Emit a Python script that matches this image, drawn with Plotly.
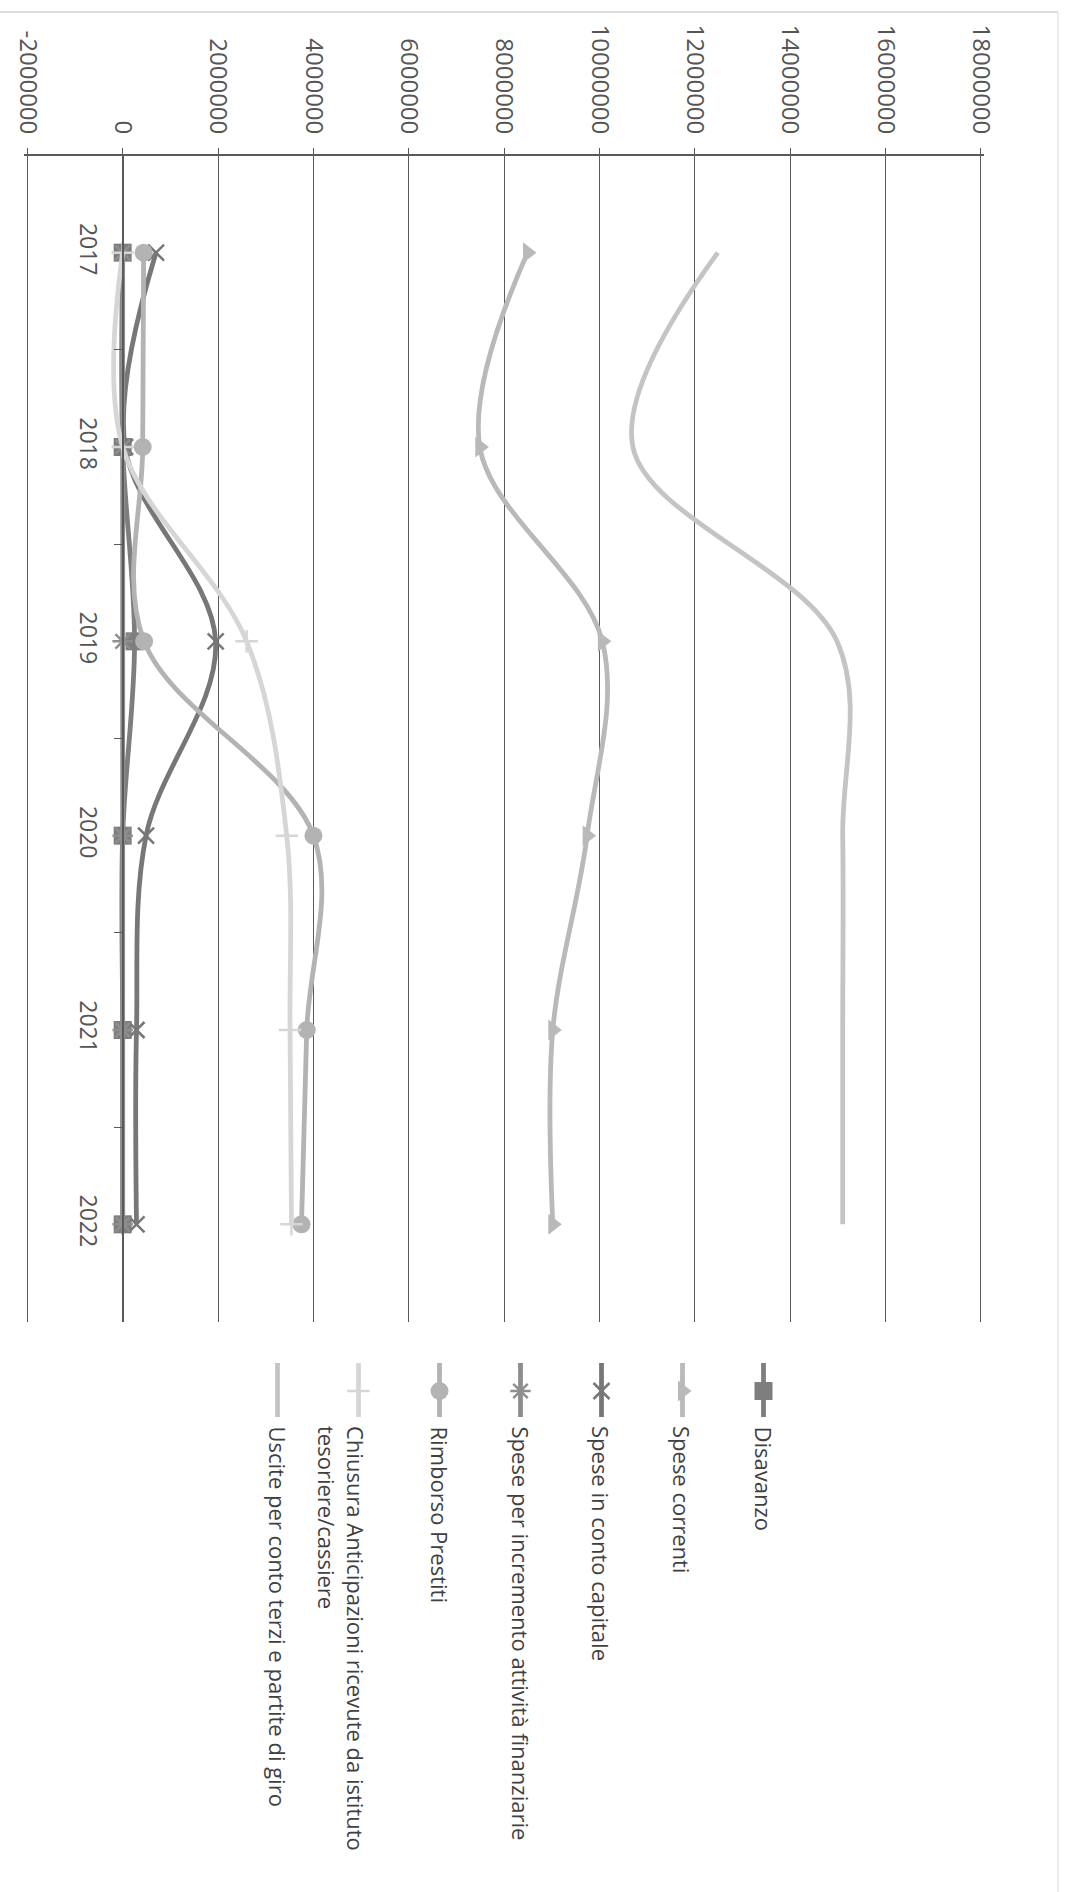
import plotly.graph_objects as go

# ---------------- data ----------------
years = ["2017", "2018", "2019", "2020", "2021", "2022"]

disavanzo = [0, 0, 250000, 0, 0, 0]
spese_correnti = [8490000, 7490000, 10060000, 9740000, 9020000, 9020000]
spese_conto_capitale = [700000, 50000, 1950000, 490000, 290000, 290000]
spese_incremento_att_fin = [0, 0, 0, 0, 0, 0]
rimborso_prestiti = [440000, 420000, 450000, 4000000, 3860000, 3750000]
chiusura_anticipazioni = [0, 0, 2600000, 3440000, 3510000, 3540000]
uscite_conto_terzi = [12480000, 10700000, 14980000, 15100000, 15100000, 15100000]

series_names = [
    "Disavanzo",
    "Spese correnti",
    "Spese in conto capitale",
    "Spese per incremento attività finanziarie",
    "Rimborso Prestiti",
    "Chiusura Anticipazioni ricevute da istituto",
    "Uscite per conto terzi e partite di giro",
]
legend_texts = [
    "Disavanzo",
    "Spese correnti",
    "Spese in conto capitale",
    "Spese per incremento attività finanziarie",
    "Rimborso Prestiti",
    "Chiusura Anticipazioni ricevute da istituto<br>tesoriere/cassiere",
    "Uscite per conto terzi e partite di giro",
]
series_values = [
    disavanzo,
    spese_correnti,
    spese_conto_capitale,
    spese_incremento_att_fin,
    rimborso_prestiti,
    chiusura_anticipazioni,
    uscite_conto_terzi,
]

value_ticks = [-2000000, 0, 2000000, 4000000, 6000000, 8000000,
               10000000, 12000000, 14000000, 16000000, 18000000]
value_tick_labels = ["-2000000", "0", "2000000", "4000000", "6000000", "8000000",
                     "10000000", "12000000", "14000000", "16000000", "18000000"]

# ---------------- styles ----------------
styles = [
    dict(color="#7e7e7e", symbol="square", size=18),
    dict(color="#b9b9b9", symbol="triangle-right", size=18),
    dict(color="#777777", symbol="x-thin", size=16),
    dict(color="#8e8e8e", symbol="asterisk", size=17),
    dict(color="#b3b3b3", symbol="circle", size=18),
    dict(color="#d6d6d6", symbol="cross-thin", size=16),
    dict(color="#c4c4c4", symbol=None, size=0),
]
LINE_SYMS = {"x-thin", "asterisk", "cross-thin"}

W, H = 1078, 1892
FONT = "Open Sans"
GRID = "#5a5a5a"

# plot area in pixels (value -2M .. 18M)
px_left, px_right = 27.3, 981.0
px_top, px_bottom = 155.5, 1321.5
xmin, xmax = value_ticks[0], value_ticks[-1]
pad_frac = 0.003  # tiny pad so the edge gridlines are drawn
pad_val = pad_frac * (xmax - xmin)
pad_px = pad_frac * (px_right - px_left)
x_range = [xmin - pad_val, xmax + pad_val]
x_dom = [(px_left - pad_px) / W, (px_right + pad_px) / W]
y_dom = [1 - px_bottom / H, 1 - px_top / H]
zero_pos = x_dom[0] + (0 - x_range[0]) / (x_range[1] - x_range[0]) * (x_dom[1] - x_dom[0])

fig = go.Figure()

for name, vals, st in zip(series_names, series_values, styles):
    marker = None
    mode = "lines"
    if st["symbol"]:
        mode = "lines+markers"
        if st["symbol"] in LINE_SYMS:
            marker = dict(symbol=st["symbol"], size=st["size"], color=st["color"],
                          line=dict(color=st["color"], width=2.5))
        else:
            marker = dict(symbol=st["symbol"], size=st["size"], color=st["color"],
                          line=dict(width=0))
    fig.add_trace(go.Scatter(
        x=vals, y=years, name=name, mode=mode,
        line=dict(color=st["color"], width=4.8, shape="spline", smoothing=1.0),
        marker=marker, xaxis="x", yaxis="y", cliponaxis=False,
    ))

# ---------------- legend (rotated, drawn manually) ----------------
leg_x0 = 763.5
leg_step = 81.0
leg_y_top, leg_y_mid, leg_y_bot = 1363, 1391, 1417
leg_text_top = 1424
annotations = []
for i, (txt, st) in enumerate(zip(legend_texts, styles)):
    lx = leg_x0 - i * leg_step
    fig.add_trace(go.Scatter(
        x=[lx, lx], y=[leg_y_top, leg_y_bot], mode="lines",
        line=dict(color=st["color"], width=4.8),
        xaxis="x2", yaxis="y2", hoverinfo="skip",
    ))
    if st["symbol"]:
        if st["symbol"] in LINE_SYMS:
            mk = dict(symbol=st["symbol"], size=st["size"], color=st["color"],
                      line=dict(color=st["color"], width=2.5))
        else:
            mk = dict(symbol=st["symbol"], size=st["size"], color=st["color"],
                      line=dict(width=0))
        fig.add_trace(go.Scatter(
            x=[lx], y=[leg_y_mid], mode="markers", marker=mk,
            xaxis="x2", yaxis="y2", hoverinfo="skip",
        ))
    nlines = txt.count("<br>") + 1
    annotations.append(dict(
        x=lx - 17 * (nlines - 1), y=leg_text_top, xref="x2", yref="y2",
        text=txt, showarrow=False, textangle=90,
        xanchor="center", yanchor="top", align="left",
        font=dict(family=FONT, size=22, color="#404040"),
    ))

fig.update_layout(
    width=W, height=H,
    margin=dict(l=0, r=0, t=0, b=0),
    paper_bgcolor="white", plot_bgcolor="rgba(0,0,0,0)",
    showlegend=False,
    font=dict(family=FONT, color="#555555"),
    xaxis=dict(
        domain=x_dom, range=x_range, side="top", anchor="y",
        tickmode="array", tickvals=value_ticks, ticktext=value_tick_labels,
        tickangle=90, tickfont=dict(family=FONT, size=24, color="#555555"),
        showgrid=True, gridcolor=GRID, gridwidth=1.4,
        showline=True, linecolor=GRID, linewidth=1.6,
        ticks="outside", ticklen=6, tickcolor=GRID, tickwidth=1.4,
        zeroline=False, ticklabelstandoff=5, automargin=False,
    ),
    yaxis=dict(
        domain=y_dom, type="category", categoryorder="array", categoryarray=years,
        range=[len(years) - 0.5, -0.5], anchor="free", position=zero_pos,
        showline=True, linecolor=GRID, linewidth=1.6,
        ticks="outside", tickson="boundaries", ticklen=8, tickcolor=GRID, tickwidth=1.4,
        showgrid=False, zeroline=False, tickangle=90,
        tickfont=dict(family=FONT, size=23, color="#555555"),
        ticklabelstandoff=14, automargin=False,
    ),
    xaxis2=dict(domain=[0, 1], range=[0, W], visible=False, anchor="y2", fixedrange=True),
    yaxis2=dict(domain=[0, 1], range=[H, 0], visible=False, anchor="x2", fixedrange=True),
    annotations=annotations,
    shapes=[
        dict(type="line", xref="paper", yref="paper", x0=0, x1=1058 / W,
             y0=1 - 12 / H, y1=1 - 12 / H, line=dict(color="#d0d0d0", width=1.5)),
        dict(type="line", xref="paper", yref="paper", x0=1058 / W, x1=1058 / W,
             y0=0, y1=1 - 12 / H, line=dict(color="#e0e0e0", width=1.2)),
    ],
)

fig.write_html("out.html")
